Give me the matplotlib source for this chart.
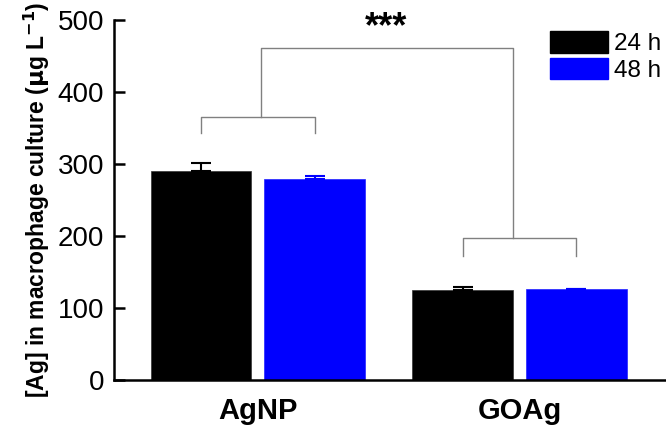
import numpy as np
import matplotlib.pyplot as plt
from matplotlib.patches import Patch

plt.rcParams['font.family'] = ['Liberation Sans', 'DejaVu Sans']

# Data
groups = ['AgNP', 'GOAg']
times = ['24 h', '48 h']
means_24 = [290, 125]
means_48 = [280, 126]
err_24 = [11, 5]
err_48 = [4, 1]
colors = ['#000000', '#0000ff']

fig = plt.figure(figsize=(6.66, 4.29), dpi=100)
ax = fig.add_axes([0.171, 0.114, 0.829, 0.839])

x = np.arange(len(groups))
w = 0.385
off = 0.2175

ax.bar(x - off, means_24, w, color=colors[0], edgecolor='#333333', linewidth=0.5,
       yerr=[np.zeros(2), err_24], capsize=7, error_kw=dict(ecolor='black', elinewidth=1.5, capthick=1.5))
ax.bar(x + off, means_48, w, color=colors[1], edgecolor='#2222ff', linewidth=0.5,
       yerr=[np.zeros(2), err_48], capsize=7, error_kw=dict(ecolor='#0000ff', elinewidth=1.5, capthick=1.5))

# significance brackets
bc = '#808080'
def bracket(xc, y_leg, y_top):
    ax.plot([xc - off, xc - off, xc + off, xc + off], [y_leg, y_top, y_top, y_leg], color=bc, lw=1)

bracket(0, 343, 366)
bracket(1, 173, 197)
ax.plot([0.013, 0.013, 0.975, 0.975], [366, 461, 461, 197], color=bc, lw=1)
ax.text(0.49, 490, '***', ha='center', va='center', fontsize=26, fontweight='bold', clip_on=False)

ax.set_xlim(-0.55, 1.56)
ax.set_ylim(0, 500)
ax.set_yticks([0, 100, 200, 300, 400, 500])
ax.tick_params(axis='y', direction='in', length=8, width=1.8, labelsize=20, pad=7)
ax.set_xticks(x)
ax.set_xticklabels(groups, fontsize=21, fontweight='bold')
ax.tick_params(axis='x', length=0, pad=12)
ax.spines['top'].set_visible(False)
ax.spines['right'].set_visible(False)
ax.spines['left'].set_linewidth(1.8)
ax.spines['bottom'].set_linewidth(1.8)

ax.set_ylabel('[Ag] in macrophage culture ($\\mathbf{\\mu}$g L$^{\\mathbf{-1}}$)', fontsize=16.5, fontweight='bold', labelpad=4)

handles = [Patch(facecolor=c, edgecolor=c) for c in colors]
ax.legend(handles, times, loc='upper left', bbox_to_anchor=(0.79, 0.97), frameon=False,
          fontsize=17.5, handlelength=2.4, handleheight=1.0, handletextpad=0.25,
          labelspacing=0.1, borderpad=0, borderaxespad=0)

fig.savefig('out.png', dpi=100)
